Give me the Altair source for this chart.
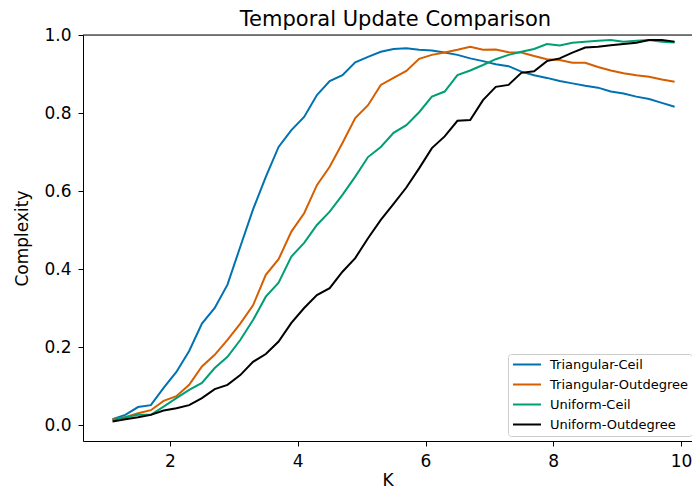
import altair as alt
import pandas as pd

K = [1.1, 1.3, 1.5, 1.7, 1.9, 2.1, 2.3, 2.5, 2.7, 2.9,
     3.1, 3.3, 3.5, 3.7, 3.9, 4.1, 4.3, 4.5, 4.7, 4.9,
     5.1, 5.3, 5.5, 5.7, 5.9, 6.1, 6.3, 6.5, 6.7, 6.9,
     7.1, 7.3, 7.5, 7.7, 7.9, 8.1, 8.3, 8.5, 8.7, 8.9,
     9.1, 9.3, 9.5, 9.7, 9.9]

triangular_ceil = [0.015, 0.026, 0.046, 0.051, 0.095, 0.136, 0.19, 0.26, 0.30, 0.36,
                   0.457, 0.553, 0.636, 0.713, 0.756, 0.79, 0.846, 0.882, 0.897, 0.93,
                   0.944, 0.957, 0.964, 0.966, 0.962, 0.96, 0.955, 0.949, 0.94, 0.933,
                   0.925, 0.92, 0.906, 0.897, 0.89, 0.882, 0.876, 0.87, 0.865, 0.855,
                   0.85, 0.842, 0.836, 0.826, 0.816]

triangular_outdegree = [0.015, 0.02, 0.03, 0.038, 0.062, 0.074, 0.103, 0.15, 0.18, 0.218,
                        0.26, 0.307, 0.385, 0.425, 0.496, 0.543, 0.615, 0.662, 0.723, 0.787,
                        0.82, 0.872, 0.89, 0.908, 0.939, 0.949, 0.955, 0.962, 0.97, 0.962,
                        0.963, 0.956, 0.955, 0.946, 0.938, 0.936, 0.929, 0.929, 0.918, 0.909,
                        0.902, 0.897, 0.893, 0.886, 0.88]

uniform_ceil = [0.013, 0.02, 0.026, 0.026, 0.047, 0.069, 0.09, 0.108, 0.146, 0.175,
                0.218, 0.269, 0.329, 0.365, 0.432, 0.467, 0.513, 0.547, 0.59, 0.637,
                0.687, 0.713, 0.749, 0.769, 0.802, 0.842, 0.855, 0.897, 0.909, 0.923,
                0.938, 0.949, 0.957, 0.964, 0.977, 0.973, 0.98, 0.983, 0.985, 0.987,
                0.983, 0.985, 0.987, 0.983, 0.981]

uniform_outdegree = [0.009, 0.015, 0.02, 0.026, 0.037, 0.043, 0.051, 0.069, 0.092, 0.103,
                     0.128, 0.162, 0.182, 0.214, 0.262, 0.3, 0.333, 0.351, 0.393, 0.428,
                     0.479, 0.526, 0.567, 0.609, 0.658, 0.71, 0.74, 0.78, 0.782, 0.833,
                     0.867, 0.872, 0.903, 0.907, 0.933, 0.94, 0.955, 0.968, 0.97, 0.974,
                     0.977, 0.98, 0.987, 0.987, 0.983]

series_names = ["Triangular-Ceil", "Triangular-Outdegree", "Uniform-Ceil", "Uniform-Outdegree"]
series_colors = ["#0072B2", "#D55E00", "#009E73", "#000000"]
x_ticks = [2, 4, 6, 8, 10]
y_ticks = [0.0, 0.2, 0.4, 0.6, 0.8, 1.0]

rows = []
for order, (name, vals) in enumerate(zip(series_names, [triangular_ceil, triangular_outdegree,
                                                        uniform_ceil, uniform_outdegree])):
    for k, v in zip(K, vals):
        rows.append({"K": k, "Complexity": v, "Series": name, "ord": order})
df = pd.DataFrame(rows)

FONT = "DejaVu Sans"

axis_common = dict(
    grid=False, domainColor="black", tickColor="black", labelColor="black",
    titleColor="black", tickSize=5, labelFontSize=17, titleFontSize=17,
    labelFont=FONT, titleFont=FONT, titleFontWeight="normal", domainWidth=1, tickWidth=1,
)

lines = alt.Chart(df).mark_line(strokeWidth=2, clip=True).encode(
    x=alt.X("K:Q",
            scale=alt.Scale(domain=[0.638, 10.172], nice=False, zero=False),
            axis=alt.Axis(values=x_ticks, format="d", title="K", labelPadding=7,
                          titlePadding=3, **axis_common)),
    y=alt.Y("Complexity:Q",
            scale=alt.Scale(domain=[-0.041, 1.0], nice=False, zero=False),
            axis=alt.Axis(values=y_ticks, format=".1f", title="Complexity", labelPadding=7,
                          titlePadding=12, **axis_common)),
    color=alt.Color("Series:N",
                    scale=alt.Scale(domain=series_names, range=series_colors),
                    legend=alt.Legend(
                        title=None, orient="none", legendX=425, legendY=319,
                        symbolType="stroke", symbolSize=784, symbolStrokeWidth=2,
                        labelFontSize=13, labelFont=FONT, labelColor="black",
                        labelOffset=8, labelLimit=0, padding=4, rowPadding=6,
                        clipHeight=13,
                        fillColor="white", strokeColor="#cccccc", cornerRadius=3)),
    order=alt.Order("ord:Q"),
    detail="Series:N",
)

top_spine = alt.Chart(pd.DataFrame({"a": [0]})).mark_rule(
    color="black", strokeWidth=1).encode(y=alt.value(0))

chart = alt.layer(lines, top_spine).properties(
    width=609, height=406,
    title=alt.TitleParams("Temporal Update Comparison", fontSize=21, font=FONT,
                          fontWeight="normal", color="black", anchor="middle",
                          offset=-4, dx=8),
    autosize=alt.AutoSizeParams(type="none"),
    padding={"left": 75, "top": 27, "right": 0, "bottom": 48},
).configure_view(stroke=None).configure(background="white")

chart.save("out.html", embed_options={"renderer": "svg", "actions": False})
